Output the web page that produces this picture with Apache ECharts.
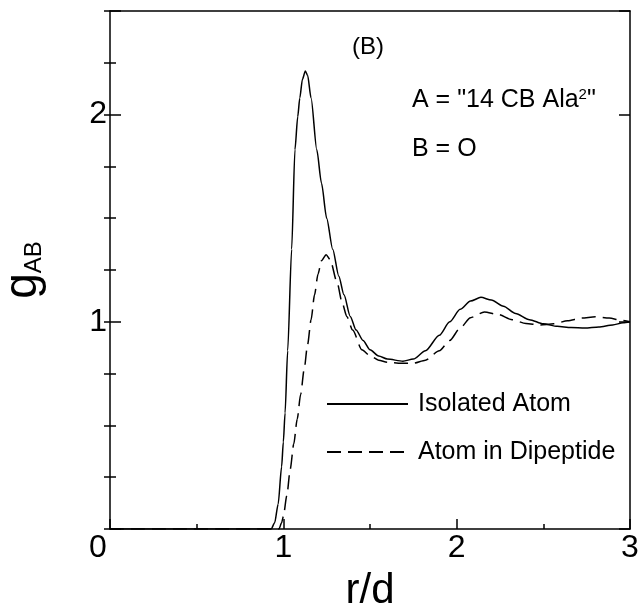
<!DOCTYPE html>
<html><head><meta charset="utf-8">
<script src="https://cdn.jsdelivr.net/npm/echarts@6/dist/echarts.min.js"></script>
<style>html,body{margin:0;padding:0;background:#fff}#c{width:640px;height:611px}</style>
</head><body><div id="c"></div>
<script>
// ---- data ----
const xTickLabels = ['0', '1', '2', '3'];
const yTickLabels = ['1', '2'];
const seriesNames = ['Isolated Atom', 'Atom in Dipeptide'];
const isolatedAtom = [
  [0, 0], [0.93, 0], [0.95, 0.03], [0.97, 0.12], [0.99, 0.30], [1.00, 0.42], [1.01, 0.56],
  [1.025, 0.86], [1.048, 1.35], [1.067, 1.83], [1.083, 1.99], [1.095, 2.08], [1.11, 2.17],
  [1.127, 2.21], [1.14, 2.19], [1.16, 2.08], [1.193, 1.83], [1.22, 1.67], [1.25, 1.50],
  [1.285, 1.35], [1.32, 1.22], [1.35, 1.13], [1.386, 1.026], [1.42, 0.96], [1.46, 0.91],
  [1.50, 0.865], [1.55, 0.835], [1.60, 0.82], [1.69, 0.81], [1.75, 0.82], [1.82, 0.86],
  [1.90, 0.935], [1.96, 1.00], [2.02, 1.06], [2.08, 1.10], [2.14, 1.118], [2.20, 1.105],
  [2.27, 1.075], [2.34, 1.04], [2.42, 1.01], [2.50, 0.99], [2.58, 0.978], [2.66, 0.972],
  [2.74, 0.97], [2.82, 0.975], [2.90, 0.985], [2.96, 0.995], [3.00, 1.0]
];
const atomInDipeptide = [
  [0, 0], [0.975, 0], [0.99, 0.03], [1.00, 0.06], [1.02, 0.16], [1.04, 0.29], [1.06, 0.41],
  [1.08, 0.53], [1.10, 0.65], [1.12, 0.77], [1.14, 0.89], [1.16, 1.01], [1.18, 1.13],
  [1.20, 1.23], [1.22, 1.295], [1.247, 1.324], [1.27, 1.30], [1.31, 1.19], [1.34, 1.09],
  [1.366, 1.026], [1.40, 0.96], [1.453, 0.865], [1.50, 0.836], [1.55, 0.815], [1.60, 0.805],
  [1.68, 0.80], [1.75, 0.80], [1.82, 0.815], [1.90, 0.86], [1.96, 0.91], [2.02, 0.97],
  [2.08, 1.02], [2.16, 1.047], [2.24, 1.035], [2.32, 1.01], [2.40, 0.992], [2.48, 0.985],
  [2.56, 0.99], [2.64, 1.005], [2.72, 1.018], [2.80, 1.024], [2.88, 1.018], [2.95, 1.007],
  [3.00, 1.0]
];

// ---- chart ----
const FONT = '"Liberation Sans", Arial, Helvetica, sans-serif';
const gridRect = { left: 110, top: 11, width: 520, height: 518, containLabel: false, outerBoundsMode: 'none' };
const blackLine = { color: '#000', width: 1.5 };
const DASH = [14, 7];

const chart = echarts.init(document.getElementById('c'), null, { renderer: 'canvas' });

function xAx(grid, pos, opts) {
  return Object.assign({
    type: 'value', gridIndex: grid, position: pos, min: 0, max: 3,
    axisLine: { show: true, onZero: false, lineStyle: blackLine },
    splitLine: { show: false }, axisLabel: { show: false }
  }, opts);
}
function yAx(grid, pos, opts) {
  return Object.assign({
    type: 'value', gridIndex: grid, position: pos, min: 0, max: 2.5,
    axisLine: { show: true, onZero: false, lineStyle: blackLine },
    splitLine: { show: false }, axisLabel: { show: false }
  }, opts);
}

const option = {
  animation: false,
  backgroundColor: '#fff',
  grid: [Object.assign({}, gridRect), Object.assign({}, gridRect)],
  xAxis: [
    xAx(0, 'bottom', {
      interval: 1,
      axisTick: { show: true, inside: true, length: 10, lineStyle: blackLine },
      axisLabel: {
        show: true, margin: 3, color: '#000', fontFamily: FONT, fontSize: 32,
        formatter: function (v) {
          const s = xTickLabels.find(t => Number(t) === v);
          if (s === undefined) return '';
          return v === 0 ? '{z|' + s + '}' : s;
        },
        rich: { z: { fontSize: 32, fontFamily: FONT, color: '#000', padding: [0, 24, 0, 0] } }
      },
      name: 'r/d', nameLocation: 'middle', nameGap: 41,
      nameTextStyle: { color: '#000', fontFamily: FONT, fontSize: 42, lineHeight: 42 }
    }),
    xAx(0, 'top', { interval: 1, axisTick: { show: false } }),
    xAx(1, 'bottom', { interval: 0.5, axisLine: { show: false },
      axisTick: { show: true, inside: true, length: 5, lineStyle: blackLine } }),
    xAx(1, 'top', { interval: 0.5, axisLine: { show: false }, axisTick: { show: false } })
  ],
  yAxis: [
    yAx(0, 'left', {
      interval: 1,
      axisTick: { show: true, inside: true, length: 11, lineStyle: blackLine },
      axisLabel: {
        show: true, margin: 3, color: '#000', fontFamily: FONT, fontSize: 32,
        formatter: function (v) {
          const s = yTickLabels.find(t => Number(t) === v);
          return s === undefined ? '' : s;
        }
      },
      name: '{g|g}{s|AB}', nameLocation: 'middle', nameRotate: 90, nameGap: 64,
      nameTextStyle: {
        color: '#000', fontFamily: FONT,
        rich: {
          g: { fontSize: 46, lineHeight: 46, fontFamily: FONT, color: '#000' },
          s: { fontSize: 24, lineHeight: 24, fontFamily: FONT, color: '#000', verticalAlign: 'bottom' }
        }
      }
    }),
    yAx(0, 'right', { interval: 1,
      axisTick: { show: true, inside: true, length: 11, lineStyle: blackLine } }),
    yAx(1, 'left', { interval: 0.25, axisLine: { show: false },
      axisTick: { show: true, inside: true, length: 6, lineStyle: blackLine } }),
    yAx(1, 'right', { interval: 0.25, axisLine: { show: false },
      axisTick: { show: true, inside: true, length: 6, lineStyle: blackLine } })
  ],
  legend: {
    show: true, orient: 'vertical', left: 321, top: 386,
    itemWidth: 81, itemHeight: 14, itemGap: 22,
    data: seriesNames,
    itemStyle: { opacity: 0 },
    formatter: n => '{t|' + n + '}',
    textStyle: {
      color: '#000', fontFamily: FONT, fontSize: 25, lineHeight: 26,
      rich: { t: { color: '#000', fontFamily: FONT, fontSize: 25, lineHeight: 26, padding: [0, 0, 0, 5] } }
    }
  },
  series: [
    {
      name: seriesNames[0], type: 'line', xAxisIndex: 0, yAxisIndex: 0,
      data: isolatedAtom, showSymbol: false, symbol: 'none',
      smooth: 0.25, smoothMonotone: 'x',
      lineStyle: { color: '#000', width: 1.5, type: 'solid' },
      itemStyle: { color: '#000' }
    },
    {
      name: seriesNames[1], type: 'line', xAxisIndex: 0, yAxisIndex: 0,
      data: atomInDipeptide, showSymbol: false, symbol: 'none',
      smooth: 0.25, smoothMonotone: 'x',
      lineStyle: { color: '#000', width: 1.5, type: DASH },
      itemStyle: { color: '#000' }
    }
  ],
  graphic: [
    { type: 'text', x: 368, y: 47, style: { text: '(B)', fill: '#000', font: '24px ' + FONT, textAlign: 'center', textVerticalAlign: 'middle' } },
    { type: 'text', x: 412, y: 100, style: {
        text: '{n|A = "14 CB Ala}{p|2}{n|"}', textVerticalAlign: 'middle',
        rich: {
          n: { fontSize: 25, lineHeight: 25, fontFamily: FONT, fill: '#000' },
          p: { fontSize: 15, lineHeight: 15, fontFamily: FONT, fill: '#000', verticalAlign: 'top' }
        } } },
    { type: 'text', x: 412, y: 149, style: { text: 'B = O', fill: '#000', font: '25px ' + FONT, textVerticalAlign: 'middle' } }
  ]
};
chart.setOption(option);
</script>
</body></html>
